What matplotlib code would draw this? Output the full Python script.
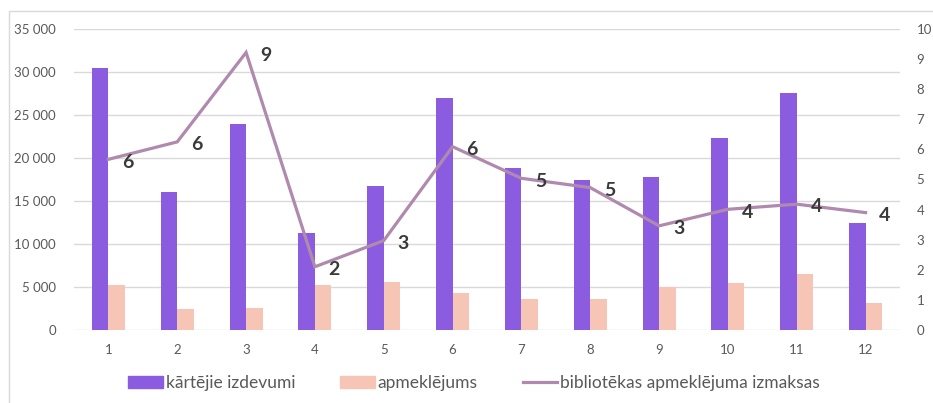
import matplotlib
matplotlib.use("Agg")
import matplotlib.pyplot as plt
from matplotlib.patches import Rectangle
from matplotlib.lines import Line2D
from matplotlib.patches import Patch
import numpy as np

categories = ["1", "2", "3", "4", "5", "6", "7", "8", "9", "10", "11", "12"]
kartejie = [30500, 16000, 24000, 11300, 16800, 27000, 18800, 17400, 17800, 22300, 27500, 12400]
apmeklejums = [5250, 2500, 2520, 5250, 5550, 4350, 3650, 3600, 5000, 5500, 6500, 3100]
izmaksas = [5.67, 6.25, 9.22, 2.10, 2.97, 6.09, 5.04, 4.73, 3.46, 4.01, 4.18, 3.90]
left_ticks = [0, 5000, 10000, 15000, 20000, 25000, 30000, 35000]
right_ticks = list(range(0, 11))

legend_labels = ["kārtējie izdevumi", "apmeklējums", "bibliotēkas apmeklējuma izmaksas"]

purple = "#8B5CE0"
pink = "#F7C5B5"
mauve = "#B08AAE"
grid = "#D9D9D9"
tickc = "#595959"

plt.rcParams['font.family'] = ['Lato', 'DejaVu Sans']

fig = plt.figure(figsize=(9.33, 4.03), dpi=100)
fig.patches.append(Rectangle((9/933, -0.1), 1.2, 1 - 11/403 + 0.1, transform=fig.transFigure,
                             fill=False, edgecolor="#D9D9D9", linewidth=1))

ax = fig.add_axes([74/933, 1 - 330/403, 826/933, 301/403])
x = np.arange(1, len(categories) + 1)
w = 0.24
ax.bar(x - w/2, kartejie, width=w, color=purple, zorder=2)
ax.bar(x + w/2, apmeklejums, width=w, color=pink, zorder=2)
ax.set_xlim(0.5, 12.5)
ax.set_ylim(0, 35000)
ax.set_yticks(left_ticks)
ax.set_yticklabels([f"{v:,}".replace(",", " ") for v in left_ticks])
ax.set_xticks(x)
ax.set_xticklabels(categories)
ax.grid(axis="y", color=grid, linewidth=1, zorder=0)
ax.set_axisbelow(True)
for s in ax.spines.values():
    s.set_visible(False)
ax.tick_params(axis="both", length=0, colors=tickc, labelsize=9.5)
ax.tick_params(axis="y", pad=13)
ax.tick_params(axis="x", pad=10)

ax2 = ax.twinx()
ax2.set_ylim(0, 10)
ax2.set_yticks(right_ticks)
for s in ax2.spines.values():
    s.set_visible(False)
ax2.tick_params(axis="y", length=0, colors=tickc, labelsize=9.5, pad=12)
ax2.plot(x, izmaksas, color=mauve, linewidth=2.3, zorder=3, solid_joinstyle="miter")
for xi, v in zip(x, izmaksas):
    ax2.annotate(f"{v:.0f}", (xi, v), xytext=(14, -2), textcoords="offset points",
                 ha="center", va="center", fontsize=14, fontweight="bold", color="#3A3A3A")

handles = [Patch(color=purple), Patch(color=pink), Line2D([0], [0], color=mauve, linewidth=2.3)]
fig.legend(handles, legend_labels, loc="center", bbox_to_anchor=(474/933, 1 - 383/403), ncol=3,
           frameon=False, fontsize=12.5, labelcolor=tickc, handlelength=2.0, handleheight=0.7,
           handletextpad=0.15, columnspacing=2.6)

fig.savefig("out.png", dpi=100)
